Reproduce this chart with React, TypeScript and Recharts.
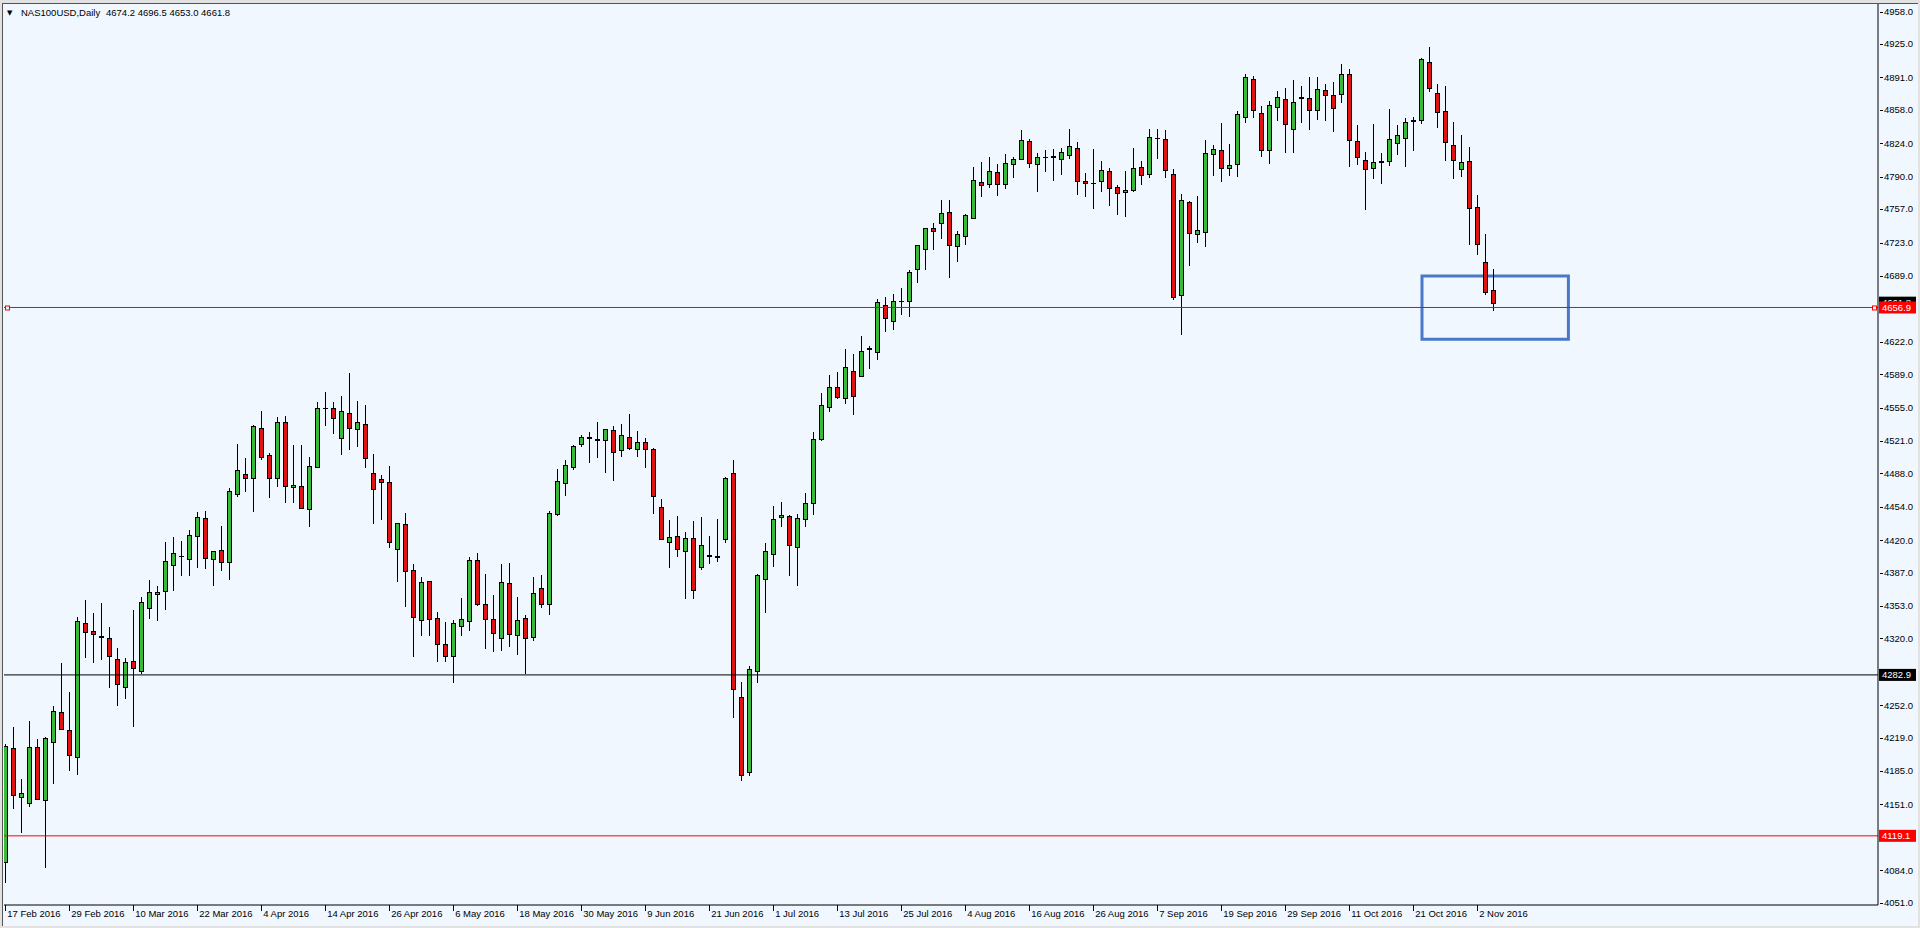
import React from 'react';
import { ComposedChart, Bar, XAxis, YAxis, ReferenceLine, ReferenceArea } from 'recharts';

// NAS100USD daily candles, 17 Feb 2016 - 4 Nov 2016
const OPEN = [
  4092, 4208, 4159, 4153, 4210, 4156, 4215, 4245, 4227, 4199,
  4336, 4328, 4322, 4320, 4299, 4271, 4297, 4287, 4351, 4365,
  4368, 4395, 4404, 4401, 4424, 4443, 4401, 4410, 4398, 4467,
  4487, 4483, 4534, 4507, 4483, 4540, 4474, 4475, 4452, 4495,
  4555, 4555, 4524, 4550, 4533, 4538, 4488, 4482, 4479, 4411,
  4437, 4390, 4339, 4378, 4341, 4314, 4302, 4333, 4338, 4400,
  4355, 4340, 4320, 4376, 4324, 4341, 4321, 4371, 4355, 4447,
  4478, 4495, 4518, 4524, 4523, 4522, 4532, 4512, 4525, 4513,
  4520, 4513, 4454, 4418, 4424, 4409, 4422, 4393, 4405, 4404,
  4421, 4488, 4260, 4184, 4287, 4381, 4406, 4444, 4445, 4413,
  4442, 4458, 4523, 4556, 4576, 4565, 4592, 4587, 4615, 4612,
  4659, 4643, 4664, 4663, 4696, 4716, 4738, 4743, 4754, 4719,
  4730, 4748, 4785, 4783, 4795, 4783, 4803, 4808, 4826, 4803,
  4810, 4810, 4808, 4812, 4819, 4786, 4784, 4786, 4796, 4780,
  4774, 4776, 4800, 4793, 4829, 4828, 4793, 4670, 4764, 4732,
  4734, 4813, 4817, 4799, 4803, 4851, 4889, 4855, 4817, 4861,
  4869, 4839, 4870, 4870, 4858, 4878, 4873, 4874, 4895, 4826,
  4807, 4799, 4805, 4806, 4824, 4829, 4847, 4848, 4907, 4875,
  4857, 4822, 4798, 4806, 4759, 4703, 4674.2,
];
const HIGH = [
  4213, 4230, 4177, 4236, 4218, 4220, 4251, 4295, 4265, 4342,
  4359, 4346, 4356, 4332, 4310, 4300, 4349, 4362, 4380, 4373,
  4418, 4423, 4419, 4430, 4449, 4450, 4409, 4434, 4473, 4518,
  4504, 4537, 4552, 4509, 4545, 4546, 4517, 4517, 4505, 4561,
  4571, 4561, 4567, 4590, 4562, 4558, 4508, 4486, 4496, 4438,
  4448, 4396, 4383, 4378, 4347, 4337, 4339, 4361, 4403, 4407,
  4386, 4364, 4396, 4397, 4362, 4344, 4383, 4385, 4450, 4492,
  4502, 4517, 4527, 4530, 4540, 4533, 4536, 4538, 4548, 4531,
  4524, 4514, 4462, 4441, 4445, 4428, 4440, 4444, 4424, 4442,
  4484, 4502, 4276, 4292, 4386, 4417, 4455, 4459, 4446, 4447,
  4468, 4530, 4570, 4588, 4591, 4615, 4610, 4628, 4618, 4666,
  4668, 4671, 4677, 4695, 4720, 4738, 4743, 4766, 4766, 4735,
  4752, 4800, 4805, 4810, 4803, 4813, 4810, 4838, 4828, 4814,
  4817, 4818, 4819, 4839, 4825, 4794, 4818, 4806, 4799, 4782,
  4796, 4819, 4806, 4839, 4839, 4838, 4798, 4772, 4765, 4770,
  4827, 4822, 4845, 4823, 4857, 4895, 4893, 4862, 4867, 4877,
  4880, 4888, 4882, 4891, 4891, 4884, 4886, 4905, 4900, 4843,
  4815, 4844, 4814, 4859, 4843, 4850, 4851, 4911, 4922, 4884,
  4882, 4846, 4832, 4820, 4771, 4732, 4696.5,
];
const LOW = [
  4071, 4146, 4122, 4148, 4156, 4086, 4172, 4227, 4185, 4181,
  4300, 4295, 4298, 4270, 4251, 4258, 4230, 4284, 4340, 4338,
  4349, 4368, 4384, 4384, 4392, 4391, 4373, 4389, 4380, 4464,
  4469, 4449, 4502, 4463, 4474, 4458, 4458, 4452, 4433, 4493,
  4536, 4528, 4507, 4512, 4515, 4494, 4436, 4441, 4412, 4377,
  4352, 4301, 4322, 4323, 4296, 4296, 4275, 4322, 4328, 4353,
  4309, 4306, 4307, 4311, 4303, 4284, 4317, 4351, 4344, 4445,
  4465, 4491, 4515, 4499, 4504, 4488, 4480, 4505, 4512, 4505,
  4494, 4447, 4420, 4392, 4403, 4360, 4360, 4390, 4396, 4398,
  4417, 4239, 4175, 4180, 4275, 4346, 4393, 4433, 4384, 4373,
  4433, 4446, 4521, 4551, 4564, 4559, 4547, 4586, 4594, 4603,
  4632, 4634, 4649, 4647, 4682, 4695, 4715, 4727, 4687, 4703,
  4720, 4747, 4769, 4779, 4770, 4778, 4789, 4808, 4799, 4774,
  4795, 4786, 4792, 4808, 4771, 4769, 4757, 4774, 4760, 4751,
  4749, 4774, 4782, 4789, 4808, 4789, 4665, 4629, 4699, 4723,
  4718, 4791, 4785, 4791, 4790, 4845, 4850, 4810, 4803, 4847,
  4814, 4814, 4845, 4838, 4848, 4847, 4836, 4865, 4800, 4802,
  4756, 4788, 4783, 4801, 4812, 4800, 4816, 4844, 4876, 4840,
  4806, 4788, 4790, 4720, 4710, 4670, 4653.0,
];
const CLOSE = [
  4211, 4161, 4163, 4210, 4157, 4219, 4246, 4228, 4201, 4338,
  4327, 4325, 4321, 4302, 4274, 4296, 4290, 4357, 4367, 4367,
  4399, 4407, 4404, 4425, 4444, 4402, 4409, 4398, 4470, 4491,
  4483, 4536, 4505, 4483, 4540, 4475, 4476, 4453, 4496, 4555,
  4555, 4544, 4552, 4534, 4540, 4504, 4472, 4479, 4418, 4438,
  4389, 4342, 4377, 4340, 4314, 4302, 4336, 4340, 4400, 4355,
  4340, 4326, 4377, 4325, 4339, 4320, 4366, 4355, 4448, 4480,
  4497, 4516, 4525, 4525, 4522, 4533, 4510, 4527, 4514, 4520,
  4513, 4465, 4421, 4423, 4411, 4422, 4369, 4415, 4404, 4403,
  4483, 4269, 4181, 4289, 4385, 4409, 4442, 4446, 4415, 4443,
  4458, 4523, 4558, 4576, 4566, 4596, 4567, 4613, 4616, 4662,
  4646, 4663, 4664, 4693, 4720, 4738, 4735, 4753, 4720, 4732,
  4751, 4787, 4782, 4796, 4783, 4804, 4808, 4827, 4804, 4810,
  4810, 4811, 4815, 4821, 4786, 4784, 4784, 4797, 4779, 4773,
  4776, 4799, 4792, 4830, 4829, 4797, 4668, 4766, 4733, 4736,
  4814, 4818, 4799, 4802, 4854, 4891, 4858, 4817, 4863, 4871,
  4844, 4866, 4871, 4858, 4879, 4873, 4860, 4895, 4827, 4810,
  4798, 4805, 4806, 4828, 4832, 4846, 4848, 4910, 4880, 4856,
  4825, 4807, 4805, 4758, 4722, 4673, 4661.8,
];

const DATE_TICKS = [0, 8, 16, 24, 32, 40, 48, 56, 64, 72, 80, 88, 96, 104, 112, 120, 128, 136, 144, 152, 160, 168, 176, 184];
const DATE_LABELS = [
  '17 Feb 2016', '29 Feb 2016', '10 Mar 2016', '22 Mar 2016', '4 Apr 2016', '14 Apr 2016',
  '26 Apr 2016', '6 May 2016', '18 May 2016', '30 May 2016', '9 Jun 2016', '21 Jun 2016',
  '1 Jul 2016', '13 Jul 2016', '25 Jul 2016', '4 Aug 2016', '16 Aug 2016', '26 Aug 2016',
  '7 Sep 2016', '19 Sep 2016', '29 Sep 2016', '11 Oct 2016', '21 Oct 2016', '2 Nov 2016',
];
const PRICE_TICKS = [
  4958, 4925, 4891, 4858, 4824, 4790, 4757, 4723, 4689, 4622, 4589, 4555, 4521,
  4488, 4454, 4420, 4387, 4353, 4320, 4252, 4219, 4185, 4151, 4084, 4051,
];

const SYMBOL = 'NAS100USD,Daily';
const LAST_BAR = [4674.2, 4696.5, 4653.0, 4661.8];
const LAST_PRICE = 4661.8;
const RESISTANCE = 4656.9;
const MID_LEVEL = 4282.9;
const LOW_LEVEL = 4119.1;
const BOX = { x1: 177.1, x2: 195.4, y1: 4624.5, y2: 4689 };

const FONT = "'Liberation Sans', Arial, 'DejaVu Sans', sans-serif";
const BULL = '#3aba3a';
const BEAR = '#e01212';

const candles = OPEN.map((o, i) => ({
  idx: i,
  open: o,
  high: HIGH[i],
  low: LOW[i],
  close: CLOSE[i],
  range: [LOW[i], HIGH[i]],
}));

function Candle(props: any) {
  const { x, y, width, height, payload } = props;
  if (x == null || !payload) return null;
  const { open, close, high, low } = payload;
  const top = Math.min(y, y + height);
  const bottom = Math.max(y, y + height);
  const k = (bottom - top) / (high - low);
  const toY = (p: number) => top + (high - p) * k;
  const px = Math.round(x + width / 2);
  const b1 = Math.round(Math.min(toY(open), toY(close)));
  const b2 = Math.round(Math.max(toY(open), toY(close)));
  return (
    <g>
      <line x1={px + 0.5} x2={px + 0.5} y1={Math.round(top)} y2={Math.round(bottom)} stroke="#000" />
      {b2 - b1 < 1 ? (
        <line x1={px - 2} x2={px + 3} y1={b1 + 0.5} y2={b1 + 0.5} stroke="#000" />
      ) : (
        <rect
          x={px - 1.5}
          y={b1 + 0.5}
          width={4}
          height={b2 - b1}
          fill={close >= open ? BULL : BEAR}
          stroke="#000"
        />
      )}
    </g>
  );
}

function PriceTick({ x, y, payload }: any) {
  const yy = Math.round(y) + 0.5;
  return (
    <g>
      <line x1={x + 2} x2={x + 5} y1={yy} y2={yy} stroke="#000" />
      <text x={x + 6} y={y} dy="0.35em" fontSize={9.5} fontFamily={FONT} fill="#000">
        {payload.value.toFixed(1)}
      </text>
    </g>
  );
}

function DateTick({ x, y, payload }: any) {
  const label = DATE_LABELS[DATE_TICKS.indexOf(payload.value)];
  const xx = Math.round(x) + 0.5;
  return (
    <g>
      <line x1={xx} x2={xx} y1={y} y2={y + 6} stroke="#000" />
      <text x={x + 2} y={y + 9} dy="0.35em" fontSize={9.5} fontFamily={FONT} fill="#000">
        {label}
      </text>
    </g>
  );
}

function PriceTag({ viewBox, text, bg, markers }: any) {
  if (!viewBox) return null;
  const { x, y, width } = viewBox;
  const right = x + width;
  return (
    <g>
      {markers && (
        <>
          <rect x={x + 1.5} y={y - 1.5} width={4} height={4} fill="#f0f7fe" stroke={bg} />
          <rect x={right - 5.5} y={y - 1.5} width={4} height={4} fill="#f0f7fe" stroke={bg} />
        </>
      )}
      <rect x={right + 1} y={y - 6} width={37} height={12} fill={bg} />
      <text x={right + 4} y={y} dy="0.35em" fontSize={9.5} fontFamily={FONT} fill="#fff">
        {text}
      </text>
    </g>
  );
}

export default function App() {
  return (
    <div style={{ position: 'fixed', left: 0, top: 0, width: 1920, height: 928, background: '#e2e2e2', overflow: 'hidden' }}>
      <div
        style={{
          position: 'absolute',
          left: 2,
          top: 3,
          width: 1915,
          height: 922,
          background: '#f0f7fe',
          borderTop: '1px solid #555',
          borderLeft: '1px solid #555',
        }}
      />
      <div style={{ position: 'absolute', left: 0, top: 0 }}>
        <ComposedChart width={1920} height={928} data={candles} margin={{ top: 4, right: 0, bottom: 0, left: 4 }}>
          <XAxis
            dataKey="idx"
            type="number"
            domain={[-0.15, 234.1]}
            allowDataOverflow
            ticks={DATE_TICKS}
            interval={0}
            height={23}
            tickSize={0}
            tickMargin={0}
            tickLine={false}
            axisLine={{ stroke: '#000' }}
            tick={<DateTick />}
          />
          <YAxis
            orientation="right"
            type="number"
            domain={[4048.7, 4965.8]}
            allowDataOverflow
            ticks={PRICE_TICKS}
            interval={0}
            width={42}
            tickSize={0}
            tickMargin={0}
            tickLine={false}
            axisLine={{ stroke: '#000' }}
            tick={<PriceTick />}
          />
          <ReferenceLine y={MID_LEVEL} stroke="#000" label={<PriceTag text={MID_LEVEL.toFixed(1)} bg="#000" />} />
          <ReferenceLine y={LOW_LEVEL} stroke="#ff0000" label={<PriceTag text={LOW_LEVEL.toFixed(1)} bg="#ff0000" />} />
          <ReferenceLine y={LAST_PRICE} stroke="none" label={<PriceTag text={LAST_PRICE.toFixed(1)} bg="#000" />} />
          <ReferenceLine y={RESISTANCE} stroke="#ff0000" label={<PriceTag text={RESISTANCE.toFixed(1)} bg="#ff0000" markers />} />
          <ReferenceArea
            x1={BOX.x1}
            x2={BOX.x2}
            y1={BOX.y1}
            y2={BOX.y2}
            fill="none"
            fillOpacity={0}
            stroke="#4a78c8"
            strokeWidth={3}
          />
          <Bar dataKey="range" barSize={5} shape={<Candle />} isAnimationActive={false} />
        </ComposedChart>
      </div>
      <div
        style={{
          position: 'absolute',
          left: 7,
          top: 6,
          fontFamily: FONT,
          fontSize: 9.5,
          lineHeight: '13px',
          color: '#000',
          whiteSpace: 'pre',
        }}
      >
        <span style={{ fontSize: 7, position: 'relative', top: -1, fontFamily: "'DejaVu Sans', sans-serif" }}>▼</span>
      </div>
      <div style={{ position: 'absolute', left: 21, top: 6, fontFamily: FONT, fontSize: 9.5, lineHeight: '13px', color: '#000' }}>
        {SYMBOL}
      </div>
      <div style={{ position: 'absolute', left: 106, top: 6, fontFamily: FONT, fontSize: 9.5, lineHeight: '13px', color: '#000' }}>
        {LAST_BAR.map((v) => v.toFixed(1)).join(' ')}
      </div>
    </div>
  );
}
